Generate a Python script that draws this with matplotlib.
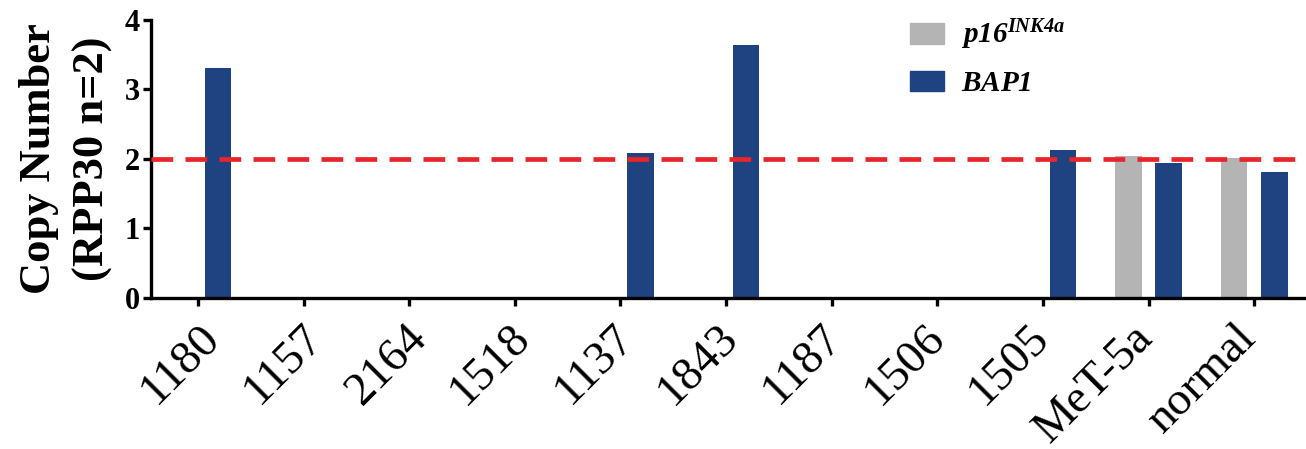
import matplotlib
matplotlib.use("Agg")
import matplotlib.pyplot as plt
import matplotlib.transforms as mtransforms
import numpy as np
from matplotlib.patches import Patch

plt.rcParams['font.family'] = ['Liberation Serif', 'DejaVu Serif']
plt.rcParams['mathtext.fontset'] = 'custom'
plt.rcParams['mathtext.rm'] = 'Liberation Serif'
plt.rcParams['mathtext.it'] = 'Liberation Serif:italic'
plt.rcParams['mathtext.bf'] = 'Liberation Serif:bold'
plt.rcParams['mathtext.bfit'] = 'Liberation Serif:bold:italic'

muestras = ['1180', '1157', '2164', '1518', '1137', '1843', '1187', '1506',
            '1505', 'MeT-5a', 'normal']
p16 = [0, 0, 0, 0, 0, 0, 0, 0, 0, 2.04, 2.01]
bap1 = [3.31, 0, 0, 0, 2.08, 3.64, 0, 0, 2.13, 1.94, 1.82]
referencia = 2.0

gris = '#b4b4b4'
azul = '#1f4280'
rojo = '#e8252b'

fig = plt.figure(figsize=(13.06, 4.49), dpi=100)
ax = fig.add_axes([0.1156, 0.3363, 0.8844, 0.6192])

x = np.arange(len(muestras))
ax.bar(x - 0.19, p16, width=0.25, color=gris, zorder=2)
ax.bar(x + 0.19, bap1, width=0.25, color=azul, zorder=2)
ax.axhline(referencia, color=rojo, lw=3.4, linestyle=(0, (4.6, 2.6)), zorder=3)

ax.set_xlim(-0.445, 10.49)
ax.set_ylim(0, 4)
ax.set_yticks([0, 1, 2, 3, 4])
ax.set_xticks(x)
ax.set_xticklabels([])
# etiquetas a mano: en el original se van corriendo a la izquierda
base = ax.get_xaxis_transform()
for i, nombre in enumerate(muestras):
    corr = mtransforms.ScaledTranslation(-1.4 * i / 72, -13 / 72,
                                         fig.dpi_scale_trans)
    ax.text(x[i], 0, nombre, transform=base + corr, rotation=45,
            ha='right', va='top', rotation_mode='anchor', fontsize=34,
            clip_on=False)
for lab in ax.get_yticklabels():
    lab.set_fontweight('bold')
    lab.set_fontsize(22)

for s in ['top', 'right']:
    ax.spines[s].set_visible(False)
for s in ['left', 'bottom']:
    ax.spines[s].set_linewidth(2.4)
ax.tick_params(axis='both', width=2.4, length=6, direction='out')
ax.tick_params(axis='y', pad=2)

ax.set_ylabel('Copy Number\n(RPP30 n=2)', fontsize=32, fontweight='bold',
              linespacing=1.45, labelpad=8)

handles = [Patch(color=gris), Patch(color=azul)]
labels = [r'$\mathbfit{p16}^{\mathbfit{INK4a}}$', r'$\mathbfit{BAP1}$']
ax.legend(handles, labels, loc='upper left', bbox_to_anchor=(0.697, 0.96),
          bbox_transform=fig.transFigure, frameon=False, fontsize=21,
          handlelength=1.15, handleheight=0.72, handletextpad=0.6,
          labelspacing=0.62, borderpad=0, borderaxespad=0)

plt.savefig('out.png', dpi=100)
